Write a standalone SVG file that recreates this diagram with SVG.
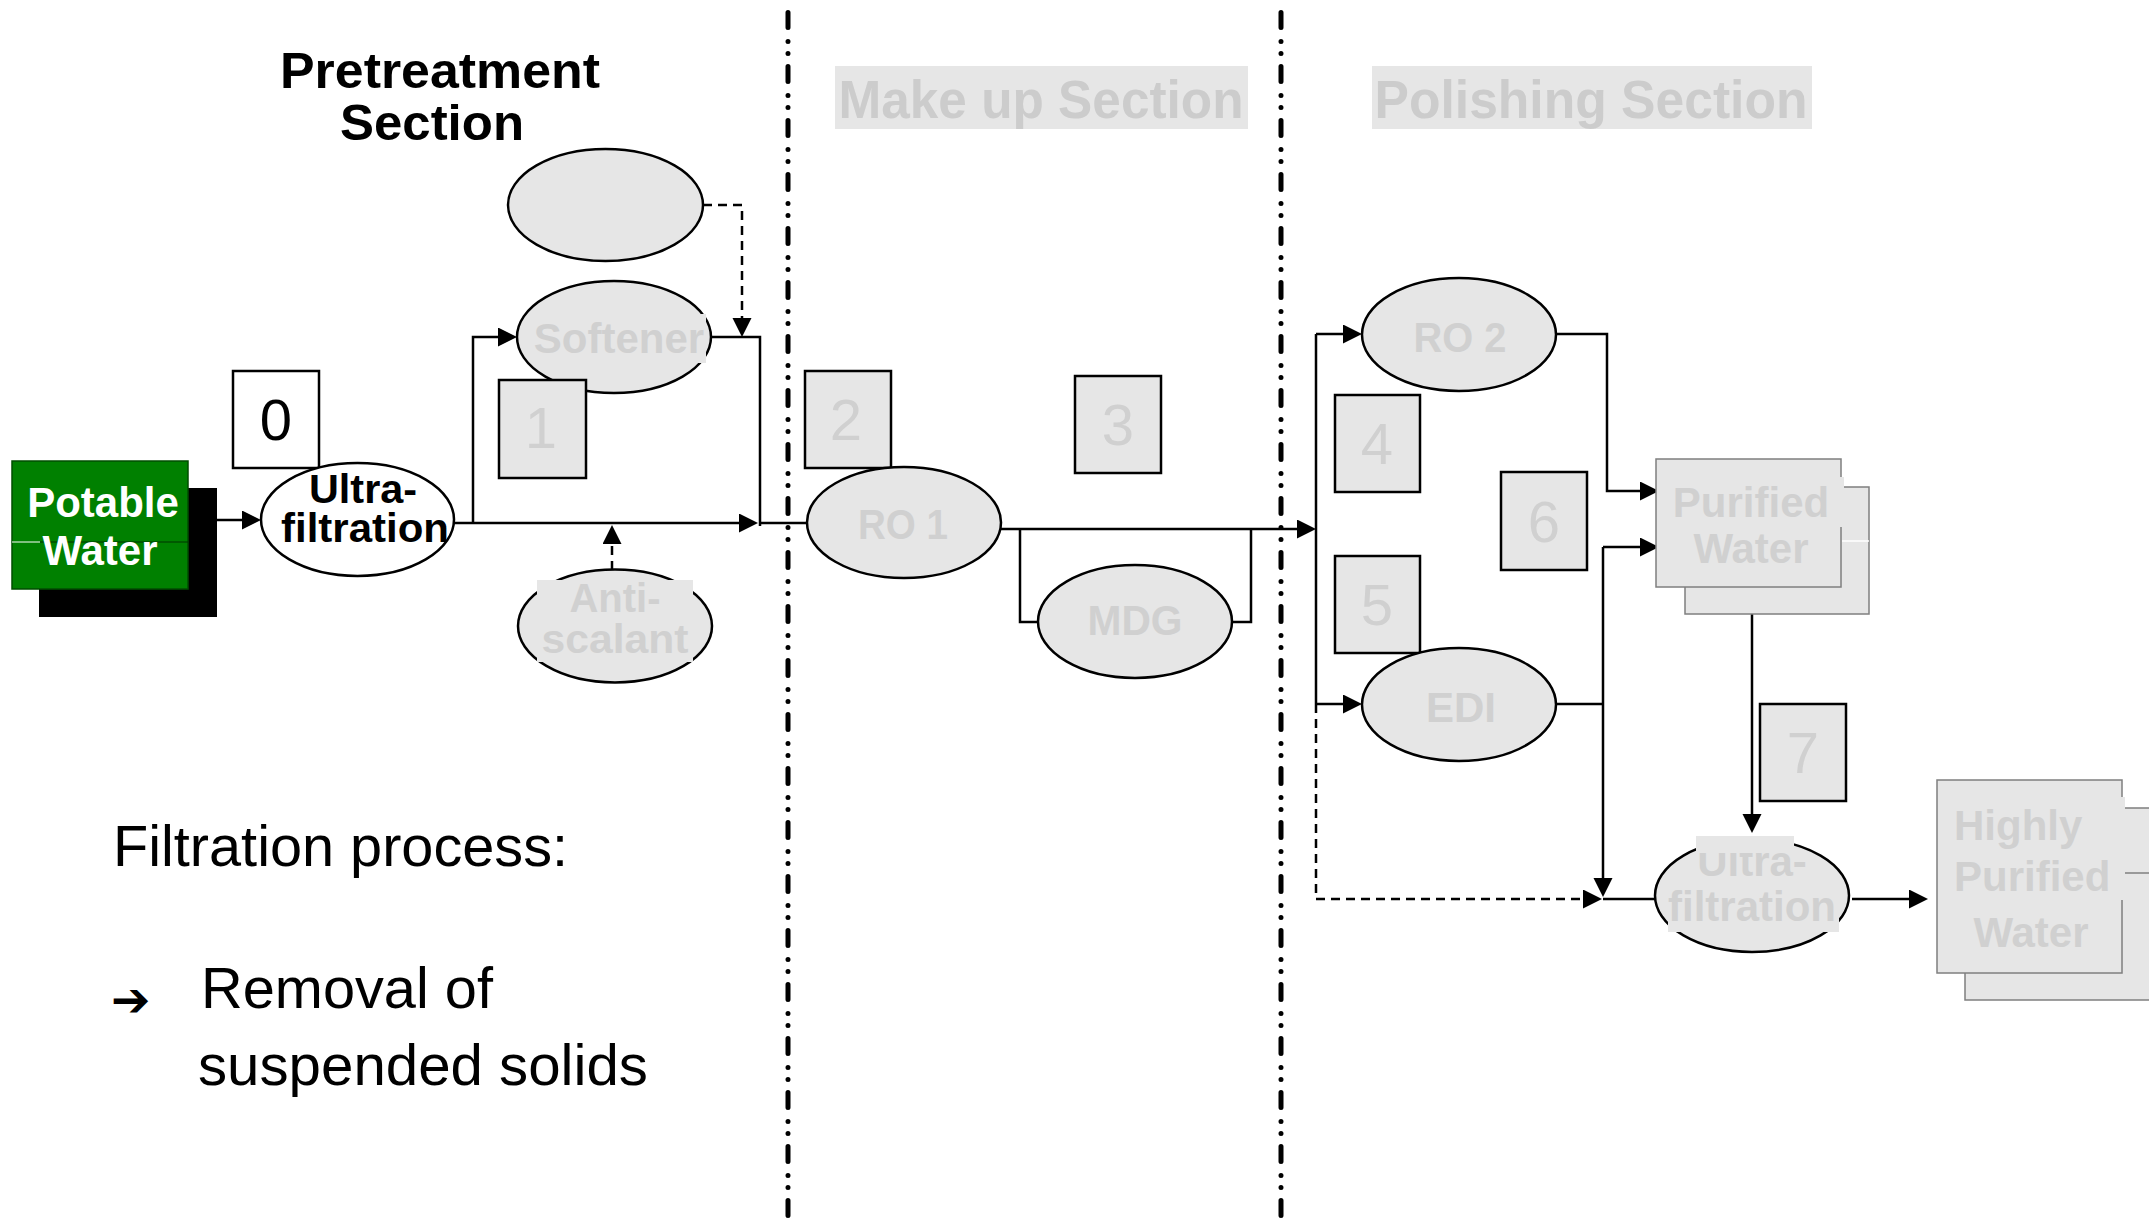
<svg xmlns="http://www.w3.org/2000/svg" width="2149" height="1226" viewBox="0 0 2149 1226">
  <style>
    .ln{fill:none;stroke:#000;stroke-width:2.5}
    .dsh{stroke-dasharray:9 6}
    .divider{fill:none;stroke:#000;stroke-width:5;stroke-linecap:round;stroke-dasharray:15 14 0 12 0 13}
    .unit{fill:#e6e6e6;stroke:#000;stroke-width:2.5}
    .tbg{fill:#e6e6e6}
    .doc{fill:#e6e6e6;stroke:#7f7f7f;stroke-width:1.5}
    .num{font-family:"Liberation Sans",Arial,sans-serif;font-size:58px;fill:#d0d0d0;text-anchor:middle}
    .lbl{font-family:"Liberation Sans",Arial,sans-serif;font-weight:bold;font-size:42px;fill:#d0d0d0;text-anchor:middle}
    .blk{font-family:"Liberation Sans",Arial,sans-serif;font-weight:bold;fill:#000;text-anchor:middle}
    .sect{font-family:"Liberation Sans",Arial,sans-serif;font-weight:bold;font-size:52px;fill:#cccccc;text-anchor:middle}
    .note{font-family:"Liberation Sans",Arial,sans-serif;font-size:57px;fill:#000}
  </style>
  <defs>
    <marker id="arrow" markerUnits="userSpaceOnUse" markerWidth="20" markerHeight="20" refX="9" refY="9.5" orient="auto">
      <path d="M0,0 L19,9.5 L0,19 z" fill="#000"/>
    </marker>
    <clipPath id="uf2clip"><rect x="1660" y="853" width="190" height="90"/></clipPath>
  </defs>
  <rect width="2149" height="1226" fill="#fff"/>

  <!-- section dividers -->
  <g id="dividers">
    <path class="divider" d="M788,12.5 V1226"/>
    <path class="divider" d="M1281,12.5 V1226"/>
  </g>

  <!-- section titles -->
  <g id="title-pretreatment">
    <text class="blk" x="440" y="88" font-size="50" textLength="320" lengthAdjust="spacingAndGlyphs">Pretreatment</text>
    <text class="blk" x="432" y="140" font-size="50" textLength="184" lengthAdjust="spacingAndGlyphs">Section</text>
  </g>
  <g id="title-makeup">
    <rect class="tbg" x="835" y="66" width="413" height="63"/>
    <text class="sect" x="1041" y="118" font-size="54" style="font-size:54px" textLength="405" lengthAdjust="spacingAndGlyphs">Make up Section</text>
  </g>
  <g id="title-polishing">
    <rect class="tbg" x="1372" y="66" width="440" height="63"/>
    <text class="sect" x="1591" y="118" style="font-size:54px" textLength="433" lengthAdjust="spacingAndGlyphs">Polishing Section</text>
  </g>

  <!-- connectors -->
  <g id="connectors">
    <path class="ln" d="M217,520 H251" marker-end="url(#arrow)"/>
    <path class="ln" d="M454,523 H748" marker-end="url(#arrow)"/>
    <path class="ln" d="M473,523 V337 H507" marker-end="url(#arrow)"/>
    <path class="ln" d="M711,337 H760 V526"/>
    <path class="ln" d="M760,523 H807"/>
    <path class="ln dsh" d="M703,205 H742 V327" marker-end="url(#arrow)"/>
    <path class="ln dsh" d="M612,570 V535" marker-end="url(#arrow)"/>
    <path class="ln" d="M1001,529 H1306" marker-end="url(#arrow)"/>
    <path class="ln" d="M1020,529 V622 H1038"/>
    <path class="ln" d="M1232,622 H1251 V529"/>
    <path class="ln" d="M1316,334 V704"/>
    <path class="ln" d="M1316,334 H1352" marker-end="url(#arrow)"/>
    <path class="ln" d="M1316,704 H1352" marker-end="url(#arrow)"/>
    <path class="ln" d="M1556,334 H1607 V491 H1649" marker-end="url(#arrow)"/>
    <path class="ln" d="M1556,704 H1603"/>
    <path class="ln" d="M1603,547 V887" marker-end="url(#arrow)"/>
    <path class="ln" d="M1603,547 H1649" marker-end="url(#arrow)"/>
    <path class="ln dsh" d="M1316,704 V899 H1592" marker-end="url(#arrow)"/>
    <path class="ln" d="M1603,899 H1656"/>
    <path class="ln" d="M1752,587 V823" marker-end="url(#arrow)"/>
    <path class="ln" d="M1852,899 H1918" marker-end="url(#arrow)"/>
  </g>

  <!-- feed -->
  <g id="potable-water">
    <rect x="39" y="488" width="178" height="129" fill="#000"/>
    <rect x="12" y="461" width="176" height="128" fill="#008000" stroke="#004d00" stroke-width="1.5"/>
    <line x1="12" y1="542" x2="40" y2="542" stroke="#fff" stroke-width="1"/>
    <line x1="40" y1="542" x2="188" y2="542" stroke="#003300" stroke-width="1"/>
    <text class="blk" x="103" y="517" font-size="42" style="fill:#fff">Potable</text>
    <text class="blk" x="100" y="565" font-size="42" style="fill:#fff">Water</text>
  </g>

  <g id="step-0">
    <rect x="233" y="371" width="86" height="97" fill="#fff" stroke="#000" stroke-width="2.5"/>
    <text class="num" x="276" y="440" style="fill:#000">0</text>
  </g>

  <g id="ultrafiltration-1">
    <ellipse cx="357.5" cy="519.5" rx="96.5" ry="56.5" fill="#fff" stroke="#000" stroke-width="2.5"/>
    <text class="blk" x="363" y="503" font-size="40" textLength="108" lengthAdjust="spacingAndGlyphs">Ultra-</text>
    <text class="blk" x="365" y="542" font-size="40" textLength="168" lengthAdjust="spacingAndGlyphs">filtration</text>
  </g>

  <g id="dosing-unit">
    <ellipse class="unit" cx="605.5" cy="205" rx="97.5" ry="56"/>
  </g>

  <g id="softener">
    <ellipse class="unit" cx="614" cy="337" rx="97" ry="56"/>
    <rect class="tbg" x="532" y="314" width="174" height="49"/>
    <text class="lbl" x="619" y="353">Softener</text>
  </g>

  <g id="step-1">
    <rect class="unit" x="499" y="380" width="87" height="98"/>
    <text class="num" x="541" y="448">1</text>
  </g>

  <g id="anti-scalant">
    <ellipse class="unit" cx="615" cy="626" rx="97" ry="56.5"/>
    <rect class="tbg" x="537" y="580" width="156" height="82"/>
    <text class="lbl" x="615" y="612" style="font-size:40px">Anti-</text>
    <text class="lbl" x="615" y="653" style="font-size:40px" textLength="147" lengthAdjust="spacingAndGlyphs">scalant</text>
  </g>

  <g id="step-2">
    <rect class="unit" x="805" y="371" width="86" height="97"/>
    <text class="num" x="846" y="440">2</text>
  </g>

  <g id="ro-1">
    <ellipse class="unit" cx="904" cy="522.5" rx="97" ry="55.5"/>
    <text class="lbl" x="903" y="539" textLength="90" lengthAdjust="spacingAndGlyphs">RO 1</text>
  </g>

  <g id="step-3">
    <rect class="unit" x="1075" y="376" width="86" height="97"/>
    <text class="num" x="1118" y="445">3</text>
  </g>

  <g id="mdg">
    <ellipse class="unit" cx="1135" cy="621.5" rx="97" ry="56.5"/>
    <text class="lbl" x="1135" y="635" textLength="95" lengthAdjust="spacingAndGlyphs">MDG</text>
  </g>

  <g id="ro-2">
    <ellipse class="unit" cx="1459" cy="334.5" rx="97" ry="56.5"/>
    <text class="lbl" x="1460" y="352" textLength="93" lengthAdjust="spacingAndGlyphs">RO 2</text>
  </g>

  <g id="step-4">
    <rect class="unit" x="1335" y="395" width="85" height="97"/>
    <text class="num" x="1377" y="464">4</text>
  </g>

  <g id="step-5">
    <rect class="unit" x="1335" y="556" width="85" height="97"/>
    <text class="num" x="1377" y="625">5</text>
  </g>

  <g id="step-6">
    <rect class="unit" x="1501" y="472" width="86" height="98"/>
    <text class="num" x="1544" y="542">6</text>
  </g>

  <g id="edi">
    <ellipse class="unit" cx="1459" cy="704.5" rx="97" ry="56.5"/>
    <text class="lbl" x="1461" y="722">EDI</text>
  </g>

  <g id="purified-water">
    <rect class="doc" x="1685" y="487" width="184" height="127"/>
    <line x1="1842" y1="541" x2="1869" y2="541" stroke="#fff" stroke-width="1.5"/>
    <rect class="doc" x="1656" y="459" width="185" height="128"/>
    <rect class="tbg" x="1660" y="477" width="184" height="50"/>
    <text class="lbl" x="1751" y="517">Purified</text>
    <text class="lbl" x="1751" y="563">Water</text>
  </g>

  <g id="step-7">
    <rect class="unit" x="1760" y="704" width="86" height="97"/>
    <text class="num" x="1803" y="773">7</text>
  </g>

  <g id="ultrafiltration-2">
    <ellipse class="unit" cx="1752" cy="895.5" rx="97" ry="56.5"/>
    <rect class="tbg" x="1696" y="836" width="98" height="44"/>
    <rect class="tbg" x="1668" y="878" width="171" height="54"/>
    <text class="lbl" x="1752" y="876" clip-path="url(#uf2clip)">Ultra-</text>
    <text class="lbl" x="1752" y="921">filtration</text>
  </g>

  <g id="highly-purified-water">
    <rect class="doc" x="1965" y="808" width="200" height="192"/>
    <line x1="2125" y1="873" x2="2149" y2="873" stroke="#7f7f7f" stroke-width="1.5"/>
    <rect class="doc" x="1937" y="780" width="185" height="193"/>
    <rect class="tbg" x="1940" y="797" width="185" height="103"/>
    <text class="lbl" x="1954" y="840" style="text-anchor:start">Highly</text>
    <text class="lbl" x="1954" y="891" style="text-anchor:start">Purified</text>
    <text class="lbl" x="2031" y="947">Water</text>
  </g>

  <!-- explanatory note -->
  <g id="note">
    <text class="note" x="113" y="866" textLength="455" lengthAdjust="spacingAndGlyphs">Filtration process:</text>
    <text x="111" y="1016" font-family="'DejaVu Sans',sans-serif" font-size="47" font-weight="bold" fill="#000">➔</text>
    <text class="note" x="201" y="1008" textLength="292" lengthAdjust="spacingAndGlyphs">Removal of</text>
    <text class="note" x="198" y="1085" textLength="450" lengthAdjust="spacingAndGlyphs">suspended solids</text>
  </g>
</svg>
